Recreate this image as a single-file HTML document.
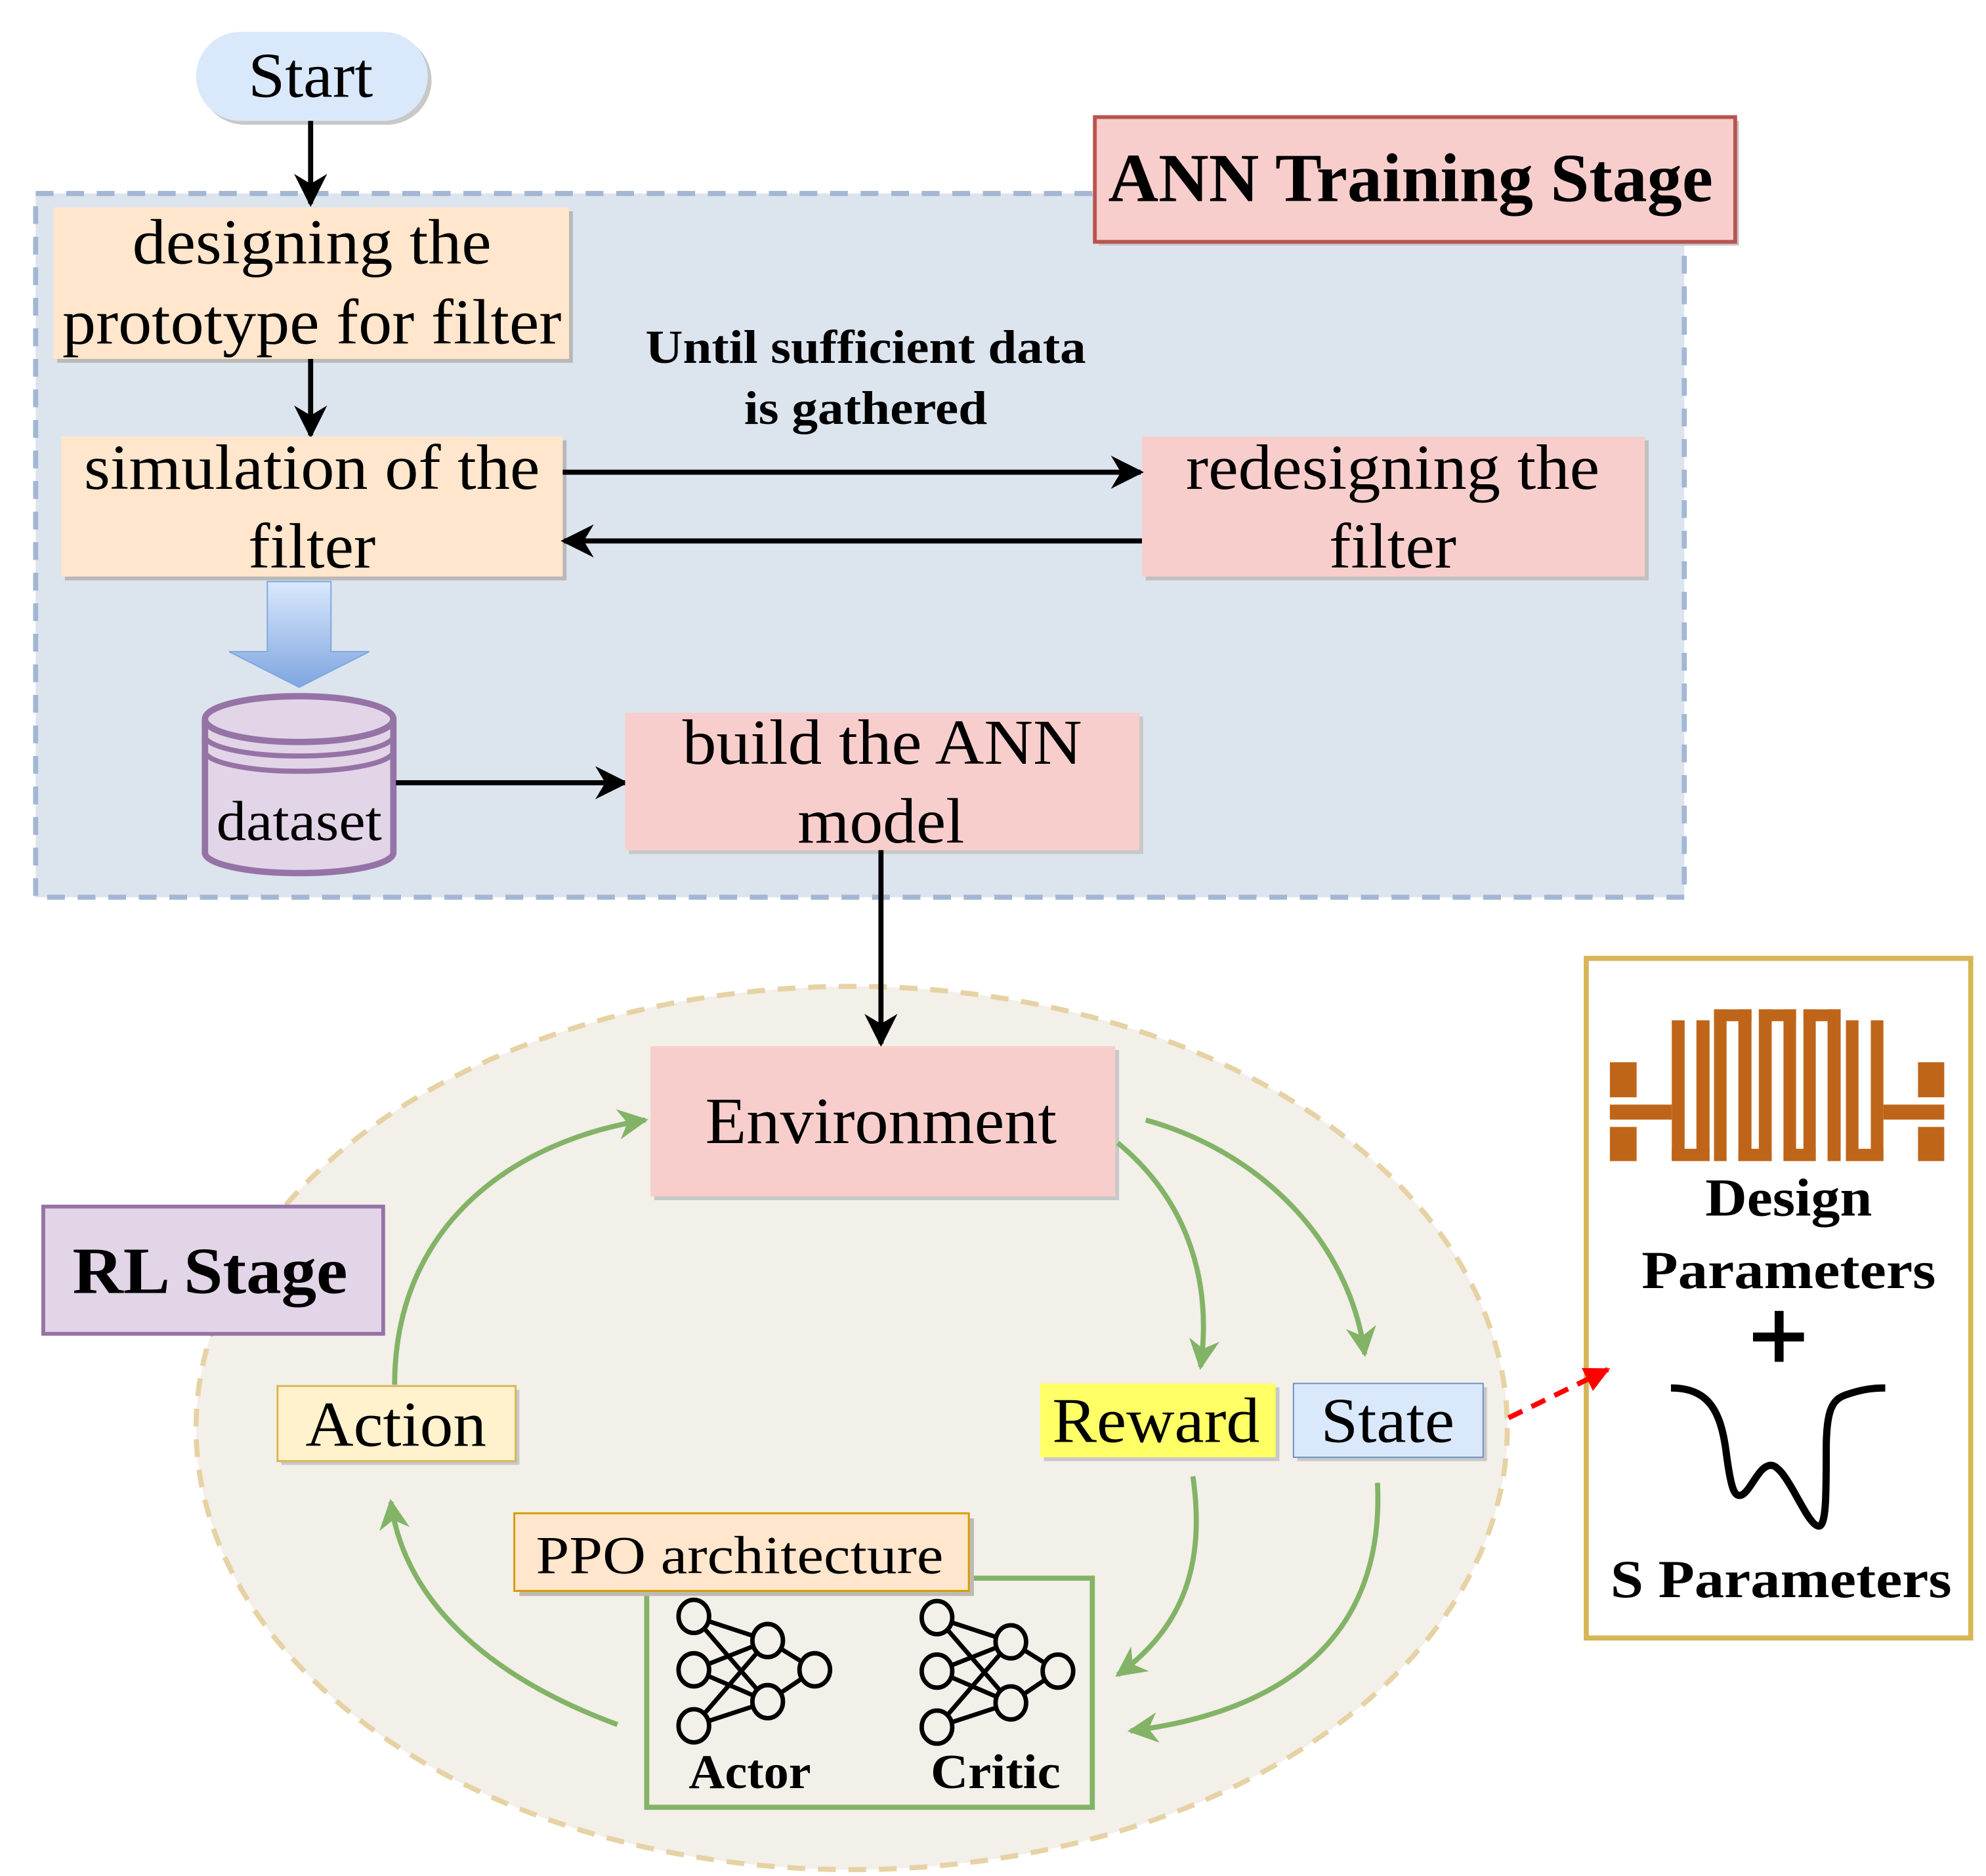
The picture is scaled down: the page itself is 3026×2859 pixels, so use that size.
<!DOCTYPE html>
<html><head><meta charset="utf-8"><style>
html,body{margin:0;padding:0;background:#fff}
svg{display:block}
text{font-family:"Liberation Serif",serif;fill:#000}
</style></head><body>
<svg width="3026" height="2859" viewBox="0 0 1560 1474" preserveAspectRatio="none" xmlns="http://www.w3.org/2000/svg">
<defs>
<marker id="ab" viewBox="0 0 10 10" refX="9" refY="5" markerWidth="6.5" markerHeight="6.5" orient="auto" markerUnits="strokeWidth"><path d="M0,0 L10,5 L0,10 L3,5 Z" fill="#000"/></marker>
<marker id="ag" viewBox="0 0 10 10" refX="9" refY="5" markerWidth="6" markerHeight="6" orient="auto" markerUnits="strokeWidth"><path d="M0,0 L10,5 L0,10 L3,5 Z" fill="#82b366"/></marker>
<marker id="ar" viewBox="0 0 10 10" refX="9" refY="5" markerWidth="5" markerHeight="5" orient="auto" markerUnits="strokeWidth"><path d="M0,0 L10,5 L0,10 Z" fill="#ff0000"/></marker>
<linearGradient id="bg" x1="0" y1="0" x2="0" y2="1"><stop offset="0" stop-color="#dae8fc"/><stop offset="1" stop-color="#7ea6e0"/></linearGradient>
</defs>
<rect width="1560" height="1474" fill="#fff"/>

<!-- Start -->
<rect x="157" y="28" width="182" height="70" rx="35" fill="#c8c8c8"/>
<rect x="154" y="25" width="182" height="70" rx="35" fill="#dae8fc"/>
<text x="244" y="76" font-size="50" text-anchor="middle" textLength="98" lengthAdjust="spacingAndGlyphs">Start</text>

<!-- ANN region -->
<rect x="28" y="152" width="1295" height="553" fill="#dce4ee" stroke="#a3b7d4" stroke-width="4" stroke-dasharray="14,10"/>
<line x1="244" y1="95" x2="244" y2="160" stroke="#000" stroke-width="4" marker-end="url(#ab)"/>
<rect x="863" y="95" width="503" height="98" fill="#c8c8c8"/>
<rect x="860" y="92" width="503" height="98" fill="#f8cecc" stroke="#b85450" stroke-width="3"/>
<text x="1108" y="158" font-size="54" font-weight="bold" text-anchor="middle" textLength="475" lengthAdjust="spacingAndGlyphs">ANN Training Stage</text>

<rect x="45" y="166" width="405" height="119" fill="#b8b8b8"/>
<rect x="42" y="163" width="405" height="119" fill="#ffe6cc"/>
<text x="245" y="207" font-size="50" text-anchor="middle" textLength="282" lengthAdjust="spacingAndGlyphs">designing the</text>
<text x="245" y="270" font-size="50" text-anchor="middle" textLength="392" lengthAdjust="spacingAndGlyphs">prototype for filter</text>
<line x1="244" y1="282" x2="244" y2="342" stroke="#000" stroke-width="4" marker-end="url(#ab)"/>

<rect x="51" y="346" width="394" height="110" fill="#b8b8b8"/>
<rect x="48" y="343" width="394" height="110" fill="#ffe6cc"/>
<text x="245" y="384" font-size="50" text-anchor="middle" textLength="358" lengthAdjust="spacingAndGlyphs">simulation of the</text>
<text x="245" y="446" font-size="50" text-anchor="middle" textLength="100" lengthAdjust="spacingAndGlyphs">filter</text>

<rect x="900" y="346" width="395" height="110" fill="#c0c0c0"/>
<rect x="897" y="343" width="395" height="110" fill="#f8cecc"/>
<text x="1094" y="384" font-size="50" text-anchor="middle" textLength="325" lengthAdjust="spacingAndGlyphs">redesigning the</text>
<text x="1094" y="446" font-size="50" text-anchor="middle" textLength="100" lengthAdjust="spacingAndGlyphs">filter</text>

<line x1="442" y1="371" x2="896" y2="371" stroke="#000" stroke-width="4" marker-end="url(#ab)"/>
<line x1="897" y1="425" x2="443" y2="425" stroke="#000" stroke-width="4" marker-end="url(#ab)"/>
<text x="680" y="285" font-size="37" font-weight="bold" text-anchor="middle" textLength="346" lengthAdjust="spacingAndGlyphs">Until sufficient data</text>
<text x="680" y="333" font-size="37" font-weight="bold" text-anchor="middle" textLength="191" lengthAdjust="spacingAndGlyphs">is gathered</text>

<!-- block arrow -->
<path d="M210,457 L260,457 L260,512 L290,512 L235,540 L180,512 L210,512 Z" fill="url(#bg)" stroke="#7ea6e0" stroke-width="1"/>

<!-- cylinder -->
<path d="M161,565 L161,670 A74,16 0 0 0 309,670 L309,565" fill="#e1d5e7" stroke="#9673a6" stroke-width="5"/>
<ellipse cx="235" cy="565" rx="74" ry="18" fill="#e1d5e7" stroke="#9673a6" stroke-width="5"/>
<path d="M161,578 A74,16 0 0 0 309,578 M161,590 A74,16 0 0 0 309,590" fill="none" stroke="#9673a6" stroke-width="4"/>
<text x="235" y="660" font-size="44" text-anchor="middle" textLength="130" lengthAdjust="spacingAndGlyphs">dataset</text>
<line x1="311" y1="615" x2="491" y2="615" stroke="#000" stroke-width="4" marker-end="url(#ab)"/>

<rect x="494" y="563" width="404" height="108" fill="#c8c8c8"/>
<rect x="491" y="560" width="404" height="108" fill="#f8cecc"/>
<text x="693" y="600" font-size="50" text-anchor="middle" textLength="314" lengthAdjust="spacingAndGlyphs">build the ANN</text>
<text x="692" y="662" font-size="50" text-anchor="middle" textLength="131" lengthAdjust="spacingAndGlyphs">model</text>

<!-- RL region -->
<ellipse cx="669" cy="1122" rx="515" ry="347" fill="#f3efe9" stroke="#e6d2a4" stroke-width="4" stroke-dasharray="14,10"/>
<line x1="692" y1="668" x2="692" y2="820" stroke="#000" stroke-width="4" marker-end="url(#ab)"/>

<rect x="514" y="825" width="365" height="118" fill="#c8c8c8"/>
<rect x="511" y="822" width="365" height="118" fill="#f8cecc"/>
<text x="692" y="898" font-size="52" text-anchor="middle" textLength="276" lengthAdjust="spacingAndGlyphs">Environment</text>

<rect x="34" y="948" width="267" height="100" fill="#e1d5e7" stroke="#9673a6" stroke-width="3"/>
<text x="165" y="1016" font-size="52" font-weight="bold" text-anchor="middle" textLength="216" lengthAdjust="spacingAndGlyphs">RL Stage</text>

<rect x="221" y="1092" width="187" height="59" fill="#c8c8c8"/>
<rect x="218" y="1089" width="187" height="59" fill="#fff2cc" stroke="#d6b656" stroke-width="1.5"/>
<text x="311" y="1136" font-size="50" text-anchor="middle" textLength="142" lengthAdjust="spacingAndGlyphs">Action</text>

<rect x="820" y="1090" width="185" height="58" fill="#c8c8c8"/>
<rect x="817" y="1087" width="185" height="58" fill="#ffff66"/>
<text x="908" y="1133" font-size="50" text-anchor="middle" textLength="163" lengthAdjust="spacingAndGlyphs">Reward</text>

<rect x="1019" y="1090" width="149" height="58" fill="#c8c8c8"/>
<rect x="1016" y="1087" width="149" height="58" fill="#dae8fc" stroke="#6c8ebf" stroke-width="1"/>
<text x="1090" y="1133" font-size="50" text-anchor="middle" textLength="105" lengthAdjust="spacingAndGlyphs">State</text>

<!-- PPO -->
<rect x="508" y="1240" width="350" height="180" fill="#f3efe9" stroke="#82b366" stroke-width="4"/>
<rect x="408" y="1193" width="357" height="61" fill="#bdbab5"/>
<rect x="404" y="1189" width="357" height="61" fill="#ffe6cc" stroke="#d79b00" stroke-width="1.5"/>
<text x="581" y="1236" font-size="42" text-anchor="middle" textLength="320" lengthAdjust="spacingAndGlyphs">PPO architecture</text>

<g stroke="#000" stroke-width="3.5" fill="none">
<g id="nn">
<path d="M545,1270 L603,1289 M545,1270 L603,1337 M545,1312 L603,1289 M545,1312 L603,1337 M545,1356 L603,1289 M545,1356 L603,1337 M603,1289 L640,1312 M603,1337 L640,1312"/>
<ellipse cx="545" cy="1270" rx="12" ry="13" fill="#f3efe9"/>
<ellipse cx="545" cy="1312" rx="12" ry="13" fill="#f3efe9"/>
<ellipse cx="545" cy="1356" rx="12" ry="13" fill="#f3efe9"/>
<ellipse cx="603" cy="1289" rx="12" ry="13" fill="#f3efe9"/>
<ellipse cx="603" cy="1337" rx="12" ry="13" fill="#f3efe9"/>
<ellipse cx="640" cy="1312" rx="12" ry="13" fill="#f3efe9"/>
</g>
<use href="#nn" x="191" y="1"/>
</g>
<text x="589" y="1405" font-size="38" font-weight="bold" text-anchor="middle" textLength="96" lengthAdjust="spacingAndGlyphs">Actor</text>
<text x="782" y="1405" font-size="38" font-weight="bold" text-anchor="middle" textLength="102" lengthAdjust="spacingAndGlyphs">Critic</text>

<!-- green arrows -->
<g fill="none" stroke="#82b366" stroke-width="4">
<path d="M310,1088 C310,965 400,897 507,880" marker-end="url(#ag)"/>
<path d="M878,898 C935,945 952,1010 943,1074" marker-end="url(#ag)"/>
<path d="M900,880 C990,905 1060,975 1072,1064" marker-end="url(#ag)"/>
<path d="M937,1160 C948,1235 925,1282 878,1316" marker-end="url(#ag)"/>
<path d="M1082,1165 C1088,1285 1010,1345 888,1360" marker-end="url(#ag)"/>
<path d="M485,1355 C390,1320 318,1262 307,1180" marker-end="url(#ag)"/>
</g>

<!-- right box -->
<rect x="1246" y="753" width="302" height="534" fill="#fff" stroke="#d6b656" stroke-width="4"/>
<g transform="translate(1241.9,745.1) scale(0.206,0.358)" fill="#bf6519">
<rect x="110" y="250" width="102" height="77"/><rect x="110" y="392" width="102" height="75"/>
<rect x="110" y="343" width="236" height="33"/>
<rect x="1285" y="250" width="100" height="77"/><rect x="1285" y="392" width="100" height="75"/>
<rect x="1153" y="343" width="232" height="33"/>
<rect x="346" y="158" width="49" height="309"/><rect x="440" y="158" width="50" height="309"/><rect x="346" y="440" width="144" height="27"/>
<rect x="507" y="134" width="48" height="333"/><rect x="600" y="134" width="50" height="333"/><rect x="507" y="134" width="143" height="26"/>
<rect x="678" y="134" width="49" height="333"/><rect x="600" y="440" width="127" height="27"/>
<rect x="772" y="134" width="48" height="333"/><rect x="678" y="134" width="142" height="26"/>
<rect x="848" y="134" width="47" height="333"/><rect x="772" y="440" width="123" height="27"/>
<rect x="940" y="134" width="50" height="333"/><rect x="848" y="134" width="142" height="26"/>
<rect x="1010" y="158" width="48" height="309"/><rect x="1105" y="158" width="48" height="309"/><rect x="1010" y="440" width="143" height="27"/>
<path d="M343,965 C480,965 530,1010 552,1100 C572,1190 585,1205 612,1200 C650,1190 680,1130 730,1135 C790,1145 860,1265 905,1268 C935,1270 935,1200 935,1100 C935,1010 960,990 1010,980 C1070,968 1110,965 1160,965" fill="none" stroke="#000" stroke-width="11" vector-effect="non-scaling-stroke"/>
</g>
<text x="1405" y="955" font-size="42" font-weight="bold" text-anchor="middle" textLength="131" lengthAdjust="spacingAndGlyphs">Design</text>
<text x="1405" y="1012" font-size="42" font-weight="bold" text-anchor="middle" textLength="231" lengthAdjust="spacingAndGlyphs">Parameters</text>
<rect x="1377" y="1047" width="40" height="7" fill="#000"/>
<rect x="1394" y="1030" width="7" height="40" fill="#000"/>
<text x="1399" y="1255" font-size="42" font-weight="bold" text-anchor="middle" textLength="268" lengthAdjust="spacingAndGlyphs">S Parameters</text>

<!-- red dashed -->
<line x1="1185" y1="1114" x2="1263" y2="1076" stroke="#ff0000" stroke-width="4" stroke-dasharray="12,8" marker-end="url(#ar)"/>
</svg>
</body></html>
